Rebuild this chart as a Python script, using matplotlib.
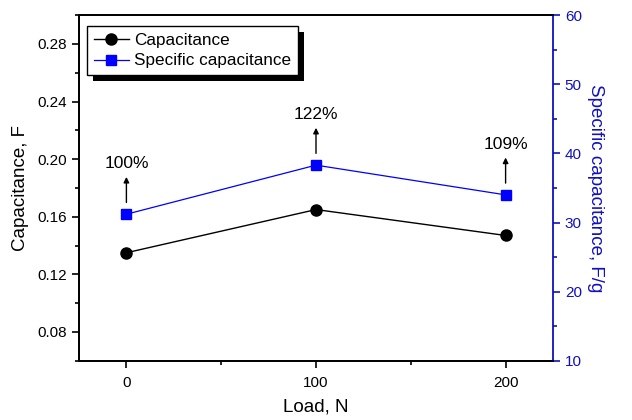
import numpy as np
import matplotlib
matplotlib.use('Agg')
import matplotlib.pyplot as plt
import matplotlib.patheffects as pe
from matplotlib.ticker import MultipleLocator, FormatStrFormatter

plt.rcParams['font.family'] = ['Liberation Sans', 'DejaVu Sans']

# %% Data
load = [0, 100, 200]
capacitance = [0.135, 0.165, 0.147]
specific_cap = [31.2, 38.3, 34.0]
pct_labels = ['100%', '122%', '109%']

blue = '#0000ff'
axis_blue = '#1010c0'

# %% Plot
fig, ax1 = plt.subplots(figsize=(6.32, 4.2), dpi=100)
fig.subplots_adjust(left=0.125, right=0.875, top=0.964, bottom=0.141)
ax2 = ax1.twinx()

l1, = ax1.plot(load, capacitance, color='k', lw=1, marker='o', ms=8,
               label='Capacitance')
l2, = ax2.plot(load, specific_cap, color=blue, lw=0.9, marker='s', ms=7.5,
               label='Specific capacitance')

ax1.set_xlim(-25, 225)
ax1.set_ylim(0.06, 0.30)
ax2.set_ylim(10, 60)

ax1.xaxis.set_major_locator(MultipleLocator(100))
ax1.xaxis.set_minor_locator(MultipleLocator(50))
ax1.yaxis.set_major_locator(MultipleLocator(0.04))
ax1.yaxis.set_minor_locator(MultipleLocator(0.02))
ax1.yaxis.set_major_formatter(FormatStrFormatter('%.2f'))
ax2.yaxis.set_major_locator(MultipleLocator(10))
ax2.yaxis.set_minor_locator(MultipleLocator(5))

ax1.tick_params(which='both', direction='out', labelsize=11, width=1.2)
ax1.tick_params(which='major', length=5)
ax1.tick_params(which='minor', length=3)
ax1.tick_params(axis='x', pad=6)
ax2.tick_params(which='both', direction='out', labelsize=11, width=1.2,
                colors=axis_blue)
ax2.tick_params(which='major', length=5)
ax2.tick_params(which='minor', length=3)

for s in ['left', 'bottom', 'top']:
    ax1.spines[s].set_linewidth(1.3)
    ax2.spines[s].set_linewidth(1.3)
ax2.spines['right'].set_color(axis_blue)
ax2.spines['right'].set_linewidth(1.3)
ax1.spines['right'].set_visible(False)

ax1.set_xlabel('Load, N', fontsize=13.5, labelpad=6)
ax1.set_ylabel('Capacitance, F', fontsize=13.5, labelpad=6)
ax2.set_ylabel('Specific capacitance, F/g', fontsize=13.5, color=axis_blue,
               rotation=270, labelpad=16)

# percentage arrows above the specific capacitance points
for xv, yv, txt in zip(load, specific_cap, pct_labels):
    ax2.annotate('', xy=(xv, yv + 5.4), xytext=(xv, yv + 1.7),
                 arrowprops=dict(arrowstyle='-|>', color='k', lw=1,
                                 mutation_scale=8, shrinkA=0, shrinkB=0))
    ax2.text(xv, yv + 7.3, txt, ha='center', va='center', fontsize=12.5)

leg = ax2.legend([l1, l2], ['Capacitance', 'Specific capacitance'],
                 loc='upper left', bbox_to_anchor=(0.017, 0.968),
                 fontsize=12.3, fancybox=False, framealpha=1,
                 edgecolor='k', borderpad=0.4, labelspacing=0.32,
                 handlelength=2.05, handletextpad=0.3, borderaxespad=0)
leg.get_frame().set_linewidth(1)
leg.get_frame().set_path_effects([
    pe.SimplePatchShadow(offset=(4, -4), shadow_rgbFace='k', alpha=1),
    pe.Normal()])

fig.savefig('out.png', dpi=100)
